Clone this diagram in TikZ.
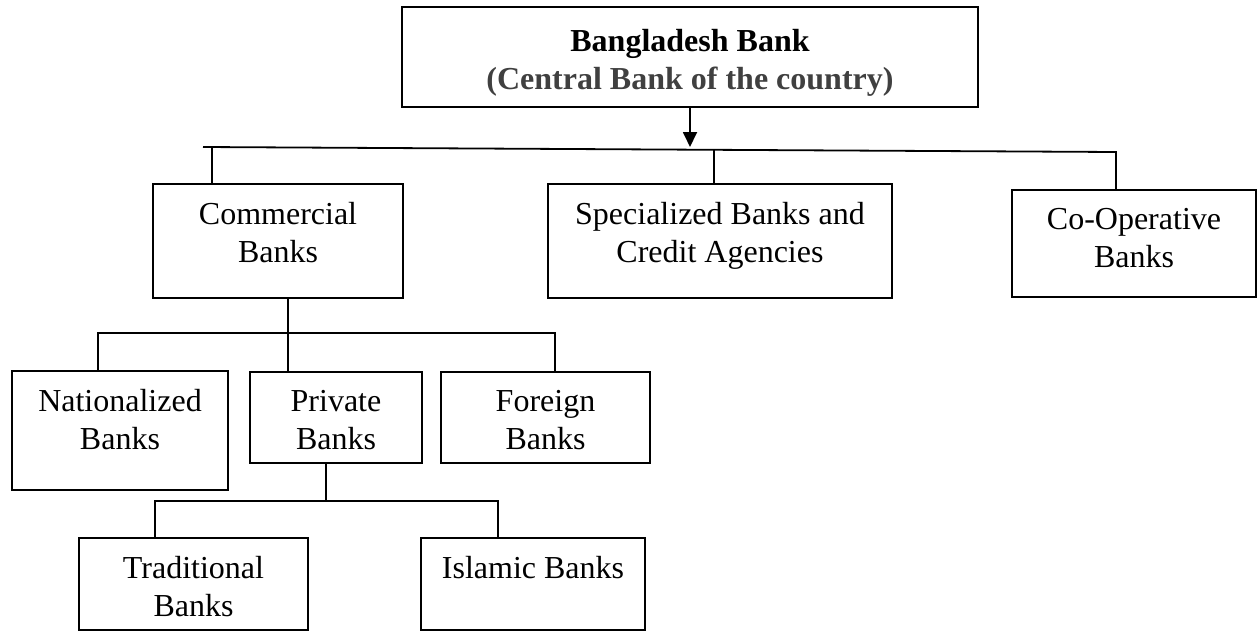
\documentclass[tikz,border=0pt]{standalone}
\usepackage{fontspec}
\setmainfont{Liberation Serif}
\usetikzlibrary{arrows.meta,calc}
\definecolor{subgray}{RGB}{64,64,64}
\tikzset{
  boxst/.style={draw=black, line width=1.8pt, inner sep=0pt, outer sep=0pt},
  lbl/.style={align=center, inner sep=0pt, font=\fontsize{32}{38.5}\selectfont},
  conn/.style={draw=black, line width=1.8pt},
  arr/.style={conn, -{Triangle[width=14pt,length=15pt]}}
}
\newcommand\mybox[6]{%
  \node[boxst, minimum width={(#4)-(#2)}, minimum height={(#5)-(#3)}, anchor=north west] (#1) at (#2,#3) {};
  \node[lbl, anchor=north] (#1T) at ($(#1.north)+(0,18)$) {#6};}
\begin{document}
\begin{tikzpicture}[x=1pt,y=-1pt]
\useasboundingbox (0,0) rectangle (1258,632);
% boxes
\node[boxst, minimum width=576, minimum height=100, anchor=north west] (top) at (402,7) {};
\node[lbl, anchor=north] (topT) at ($(top.north)+(0,22)$) {\textbf{Bangladesh Bank}\\\textcolor{subgray}{\textbf{(Central Bank of the country)}}};
\mybox{com}{153}{184}{403}{298}{Commercial\\Banks}
\mybox{spe}{548}{184}{892}{298}{Specialized Banks and\\Credit Agencies}
\mybox{coo}{1012}{190}{1256}{297}{Co-Operative\\Banks}
\mybox{nat}{12}{371}{228}{490}{Nationalized\\Banks}
\mybox{pri}{250}{372}{422}{463}{Private\\Banks}
\mybox{for}{441}{372}{650}{463}{Foreign\\Banks}
\mybox{tra}{79}{538}{308}{630}{Traditional\\Banks}
\mybox{isl}{421}{538}{645}{630}{Islamic Banks}
% top level connectors
\draw[arr] (top.south) -- ++(0,40);
\coordinate (L) at (203,147);
\coordinate (R) at (1116,152);
\coordinate (c1) at (212,147.05);
\coordinate (c2) at (714,149.8);
\draw[conn] (L) -- (R) -- (R |- coo.north);
\draw[conn] (c1) -- (c1 |- com.north);
\draw[conn] (c2) -- (c2 |- spe.north);
% commercial branch
\coordinate (k0) at (98,333);
\coordinate (k1) at (288,333);
\coordinate (k2) at (555,333);
\draw[conn] (k1 |- com.south) -- (k1) -- (k1 |- pri.north);
\draw[conn] (k0 |- nat.north) -- (k0) -- (k2) -- (k2 |- for.north);
% private branch
\coordinate (p0) at (155,501);
\coordinate (p1) at (326,501);
\coordinate (p2) at (498,501);
\draw[conn] (p1 |- pri.south) -- (p1);
\draw[conn] (p0 |- tra.north) -- (p0) -- (p2) -- (p2 |- isl.north);
\end{tikzpicture}
\end{document}
